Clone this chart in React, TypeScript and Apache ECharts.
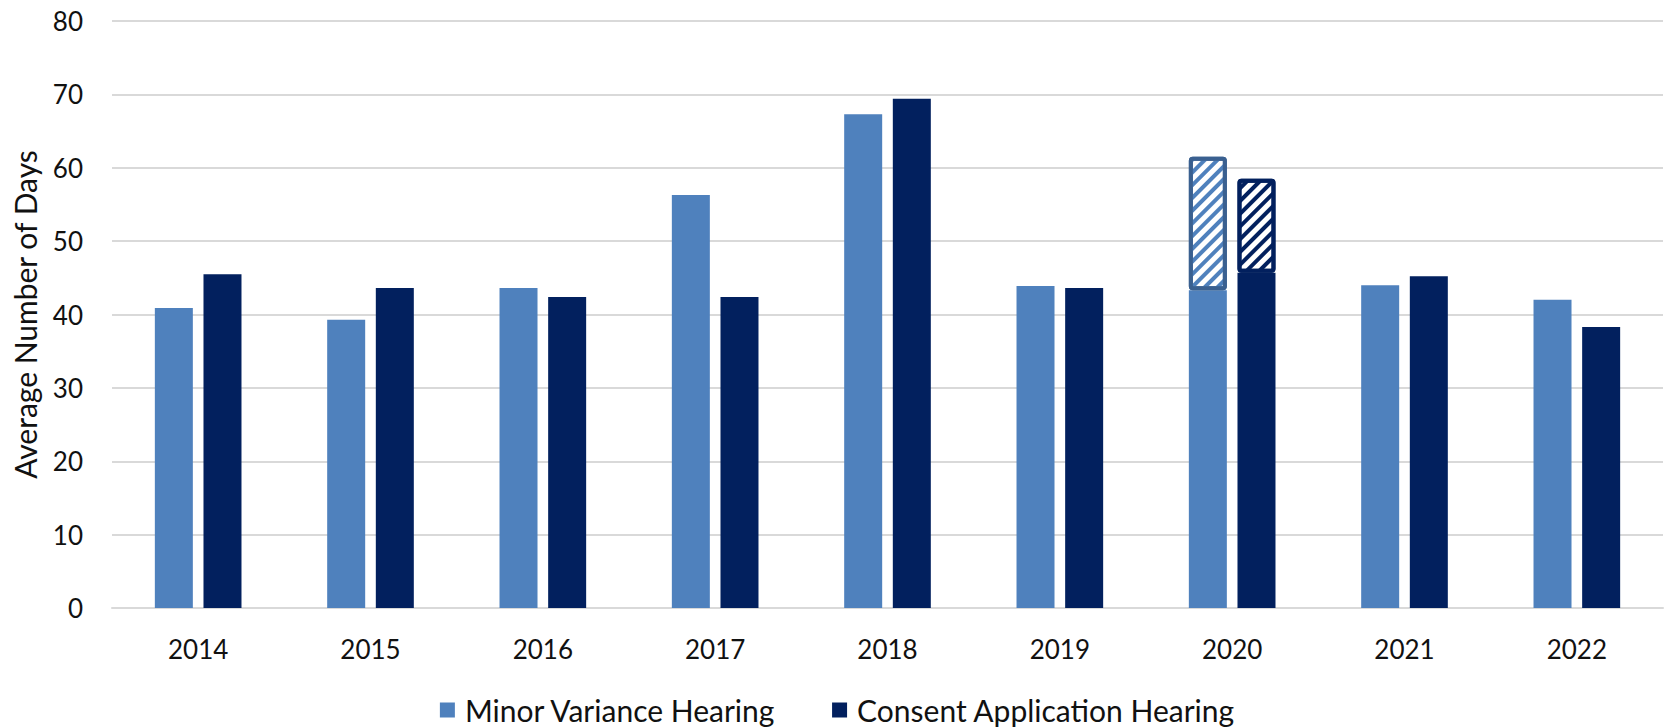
import React, { useEffect, useRef } from "react";
import * as echarts from "echarts";

const years = ["2014", "2015", "2016", "2017", "2018", "2019", "2020", "2021", "2022"];
const minorVariance = [40.9, 39.3, 43.6, 56.3, 67.3, 43.9, 43.3, 44.0, 42.0];
const consentApplication = [45.5, 43.6, 42.4, 42.4, 69.4, 43.6, 45.7, 45.2, 38.3];
// Hatched (projected) totals shown for 2020 only
const minorVarianceHatchedTop = [null, null, null, null, null, null, 61.5, null, null];
const consentHatchedTop = [null, null, null, null, null, null, 58.5, null, null];
const yTicks = { min: 0, max: 80, interval: 10 };

const LIGHT = "#4F81BD";
const LIGHT_BORDER = "#3A6090";
const DARK = "#02205E";
const FONT = "Lato";

export default function App() {
  const ref = useRef<HTMLDivElement>(null);
  useEffect(() => {
    if (!ref.current) return;
    const chart = echarts.init(ref.current, null, { renderer: "svg" });
    const diff = (tops: (number | null)[], base: number[]) =>
      tops.map((t, i) => (t == null ? null : +(t - base[i]).toFixed(2)));
    const barWidth = 38;
    const hatch = (c: string) => ({
      symbol: "rect",
      symbolSize: 1,
      dashArrayX: [1, 0],
      dashArrayY: [4, 5],
      rotation: -Math.PI / 4,
      color: c,
      backgroundColor: "#ffffff",
    });
    chart.setOption({
      animation: false,
      textStyle: { fontFamily: FONT },
      grid: { left: 112, right: 12, top: 21, bottom: 119, containLabel: false },
      legend: {
        data: ["Minor Variance Hearing", "Consent Application Hearing"],
        top: 690,
        left: "center",
        itemWidth: 15,
        itemHeight: 15,
        itemGap: 56,
        icon: "rect",
        textStyle: { fontSize: 30, color: "#111", fontFamily: FONT, padding: [0, 0, 0, 5] },
      },
      xAxis: {
        type: "category",
        data: years,
        axisTick: { show: false },
        axisLine: { show: true, lineStyle: { color: "#d9d9d9", width: 2 } },
        axisLabel: { fontSize: 26, color: "#111", margin: 28, fontFamily: FONT },
      },
      yAxis: {
        type: "value",
        min: yTicks.min,
        max: yTicks.max,
        interval: yTicks.interval,
        name: "Average Number of Days",
        nameLocation: "middle",
        nameGap: 72,
        nameTextStyle: { fontSize: 30, color: "#111", fontFamily: FONT },
        axisLabel: { fontSize: 26, color: "#111", margin: 29, fontFamily: FONT },
        splitLine: { lineStyle: { color: "#d9d9d9", width: 2 } },
      },
      series: [
        {
          name: "Minor Variance Hearing",
          type: "bar",
          stack: "mv",
          barWidth,
          barGap: "28%",
          itemStyle: { color: LIGHT },
          data: minorVariance,
        },
        {
          name: "Minor Variance Hearing (hatched)",
          type: "bar",
          stack: "mv",
          barWidth,
          itemStyle: {
            color: "#ffffff",
            borderColor: LIGHT_BORDER,
            borderWidth: 4,
            borderRadius: 2,
            decal: hatch(LIGHT),
          },
          data: diff(minorVarianceHatchedTop, minorVariance),
        },
        {
          name: "Consent Application Hearing",
          type: "bar",
          stack: "ca",
          barWidth,
          barGap: "28%",
          itemStyle: { color: DARK },
          data: consentApplication,
        },
        {
          name: "Consent Application Hearing (hatched)",
          type: "bar",
          stack: "ca",
          barWidth,
          itemStyle: {
            color: "#ffffff",
            borderColor: DARK,
            borderWidth: 4,
            borderRadius: 2,
            decal: hatch(DARK),
          },
          data: diff(consentHatchedTop, consentApplication),
        },
      ],
    });
    return () => chart.dispose();
  }, []);
  return (
    <div
      ref={ref}
      style={{ position: "fixed", left: 0, top: 0, width: 1675, height: 727, background: "#fff" }}
    />
  );
}
